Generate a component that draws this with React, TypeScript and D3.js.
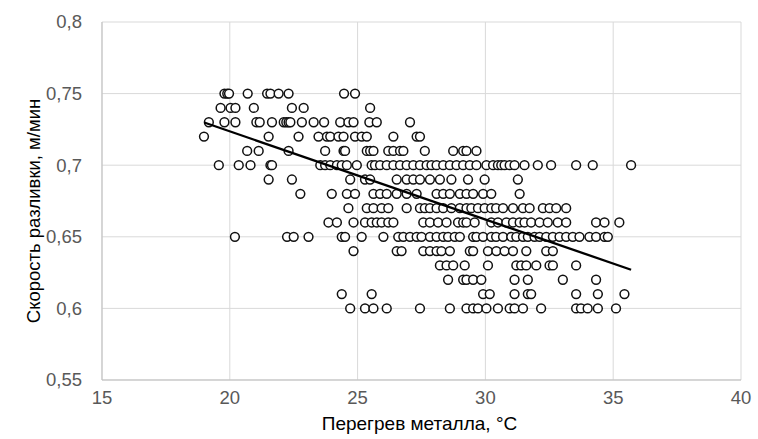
import React, { useEffect } from 'react';
import * as d3 from 'd3';

// x-values (перегрев, °C) grouped by the casting speed they were plotted at
const x075 = [19.79, 19.9, 19.97, 20.7, 21.46, 21.59, 21.91, 22.3, 24.47, 24.9];
const x074 = [19.64, 20.03, 20.22, 20.94, 22.43, 22.89, 25.49];
const x073 = [19.18, 19.79, 20.22, 21.04, 21.17, 21.65, 22.11, 22.21, 22.3, 22.37, 22.82, 23.28, 23.69, 24.32, 24.64, 24.84, 25.46, 25.75, 27.05];
const x072 = [18.99, 21.52, 22.69, 23.47, 23.8, 23.93, 24.25, 24.45, 24.9, 25.16, 25.36, 26.4, 27.31, 27.44];
const x071 = [20.68, 21.13, 22.3, 23.73, 24.45, 24.51, 25.36, 25.49, 25.62, 26.2, 26.4, 26.66, 26.79, 27.63, 28.74, 29.13, 29.26, 29.65];
const x070 = [19.57, 20.35, 20.81, 21.59, 21.65, 23.54, 23.73, 23.93, 24.19, 24.38, 24.58, 24.97, 25.55, 25.68, 25.88, 26.14, 26.4, 26.66, 26.92, 27.18, 27.44, 27.7, 27.89, 28.09, 28.35, 28.61, 28.87, 29.13, 29.39, 29.65, 30.04, 30.3, 30.49, 30.62, 30.75, 30.95, 31.14, 31.53, 32.05, 32.57, 33.55, 34.2, 35.7];
const x069 = [21.52, 22.43, 24.71, 25.29, 25.49, 26.53, 26.92, 27.18, 27.44, 27.83, 28.22, 28.67, 29.32, 29.97, 31.27];
const x068 = [22.76, 23.99, 24.58, 24.9, 25.62, 25.88, 26.14, 26.53, 26.92, 27.31, 28.09, 28.35, 28.61, 29.0, 29.26, 29.52, 29.91, 30.23, 31.34];
const x067 = [24.64, 25.36, 25.62, 25.94, 26.2, 26.92, 27.44, 27.63, 27.83, 28.09, 28.35, 28.67, 29.0, 29.26, 29.45, 29.71, 29.97, 30.23, 30.42, 30.69, 31.08, 31.47, 31.73, 32.25, 32.51, 32.77, 33.16];
const x066 = [23.86, 24.19, 24.84, 25.29, 25.55, 25.75, 25.94, 26.2, 26.4, 27.57, 27.83, 28.15, 28.48, 28.93, 29.13, 29.26, 29.58, 30.23, 30.49, 30.82, 31.08, 31.34, 31.53, 31.79, 32.12, 32.44, 32.83, 33.16, 34.33, 34.66, 35.24];
const x065 = [20.2, 22.24, 22.5, 23.08, 24.38, 24.51, 25.16, 26.01, 26.59, 26.79, 27.05, 27.31, 27.5, 27.83, 28.09, 28.35, 28.54, 28.8, 29.0, 29.52, 29.65, 29.91, 30.23, 30.42, 30.69, 31.01, 31.21, 31.47, 31.66, 31.92, 32.12, 32.38, 32.64, 32.9, 33.16, 33.42, 33.68, 34.07, 34.33, 34.66, 34.79];
const x064 = [24.84, 26.53, 26.72, 27.57, 27.83, 28.09, 28.28, 28.61, 29.39, 29.52, 30.1, 30.43, 30.75, 31.08, 31.6, 32.38, 32.64];
const x063 = [28.22, 28.48, 28.74, 29.19, 30.1, 31.21, 31.4, 31.6, 31.99, 32.51, 32.64, 33.55];
const x062 = [28.54, 29.13, 29.26, 29.52, 29.84, 31.14, 31.66, 33.03, 34.33];
const x061 = [24.38, 25.55, 29.91, 30.17, 31.14, 31.66, 31.79, 33.55, 34.4, 35.44];
const x060 = [24.71, 25.29, 25.62, 26.14, 27.44, 28.61, 29.26, 29.52, 29.71, 30.04, 30.49, 30.95, 31.14, 31.47, 32.18, 33.55, 33.74, 34.0, 34.4, 35.11];

const speedLevels = [0.75, 0.74, 0.73, 0.72, 0.71, 0.7, 0.69, 0.68, 0.67, 0.66, 0.65, 0.64, 0.63, 0.62, 0.61, 0.6];
const xByLevel = [x075, x074, x073, x072, x071, x070, x069, x068, x067, x066, x065, x064, x063, x062, x061, x060];

// linear trend line, endpoints
const trendX = [19.0, 35.7];
const trendY = [0.7298, 0.627];

const xTicks = [15, 20, 25, 30, 35, 40];
const yTicks = [0.55, 0.6, 0.65, 0.7, 0.75, 0.8];

export default function App() {
  useEffect(() => {
    document.body.style.margin = '0';
  }, []);

  const width = 758;
  const height = 439;
  const margin = { top: 22, right: 17, bottom: 59, left: 102 };
  const innerW = width - margin.left - margin.right;
  const innerH = height - margin.top - margin.bottom;

  const x = d3.scaleLinear().domain([15, 40]).range([0, innerW]);
  const y = d3.scaleLinear().domain([0.55, 0.8]).range([innerH, 0]);

  const points = speedLevels.flatMap((v, i) => xByLevel[i].map(t => ({ t, v })));
  // draw left to right so white fills overlap like in the source
  points.sort((a, b) => a.t - b.t);

  const trend = d3.line<number>()
    .x((_, i) => x(trendX[i]))
    .y(d => y(d));

  const fmt = (d: number) => String(d).replace('.', ',');
  const font = '"Liberation Sans", Arial, sans-serif';

  return (
    <svg width={width} height={height} style={{ display: 'block', background: '#fff' }}>
      <g transform={`translate(${margin.left},${margin.top})`}>
        {yTicks.map(t => (
          <line key={'gy' + t} x1={0} x2={innerW} y1={y(t)} y2={y(t)} stroke="#d9d9d9" strokeWidth={1} />
        ))}
        {xTicks.map(t => (
          <line key={'gx' + t} x1={x(t)} x2={x(t)} y1={0} y2={innerH} stroke="#d9d9d9" strokeWidth={1} />
        ))}
        <line x1={0} x2={0} y1={0} y2={innerH} stroke="#bfbfbf" />
        <line x1={0} x2={innerW} y1={innerH} y2={innerH} stroke="#bfbfbf" />

        {yTicks.map(t => (
          <text key={'ly' + t} x={-20} y={y(t)} dy="0.35em" textAnchor="end"
            fontFamily={font} fontSize={18.5} fill="#595959">{fmt(t)}</text>
        ))}
        {xTicks.map(t => (
          <text key={'lx' + t} x={x(t)} y={innerH + 24} textAnchor="middle"
            fontFamily={font} fontSize={18.5} fill="#595959">{t}</text>
        ))}

        {points.map((p, i) => (
          <circle key={i} cx={x(p.t)} cy={y(p.v)} r={4.4}
            fill="#fff" stroke="#111" strokeWidth={1.5} />
        ))}

        <path d={trend(trendY) || ''} fill="none" stroke="#000" strokeWidth={2.3} />

        <text x={innerW / 2 - 2} y={innerH + 50} textAnchor="middle"
          fontFamily={font} fontSize={19} fill="#000">Перегрев металла, °C</text>
        <text transform={`translate(${-62},${innerH / 2 + 10}) rotate(-90)`} textAnchor="middle"
          fontFamily={font} fontSize={18.5} fill="#000">Скорость разливки, м/мин</text>
      </g>
    </svg>
  );
}
